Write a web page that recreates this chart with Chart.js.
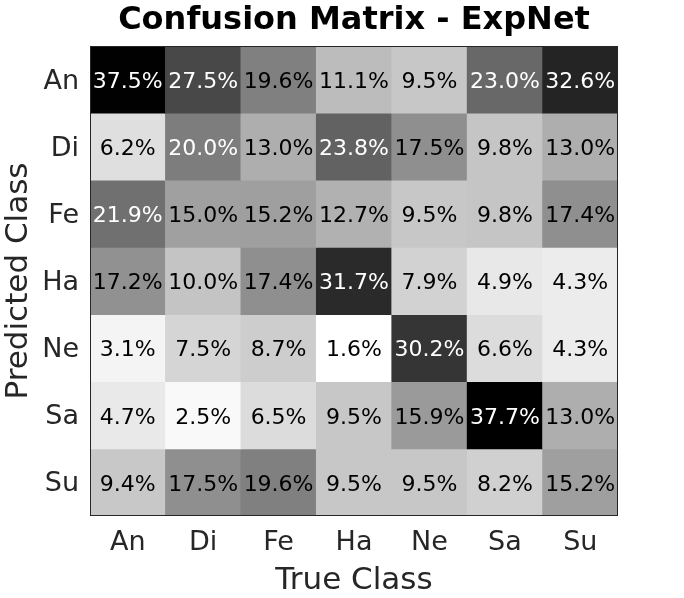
<!DOCTYPE html>
<html>
<head>
<meta charset="utf-8">
<script src="https://cdn.jsdelivr.net/npm/chart.js@4/dist/chart.umd.min.js"></script>
<style>
html,body{margin:0;padding:0;background:#fff;}
#wrap{width:684px;height:598px;position:relative;}
</style>
</head>
<body>
<div id="wrap"><canvas id="c" width="684" height="598"></canvas></div>
<script>
const titleText = "Confusion Matrix - ExpNet";
const trueClasses = ["An","Di","Fe","Ha","Ne","Sa","Su"];
const predictedClasses = ["An","Di","Fe","Ha","Ne","Sa","Su"];
// rows = predicted class, columns = true class (percent)
const rowAn = [37.5, 27.5, 19.6, 11.1, 9.5, 23.0, 32.6];
const rowDi = [6.2, 20.0, 13.0, 23.8, 17.5, 9.8, 13.0];
const rowFe = [21.9, 15.0, 15.2, 12.7, 9.5, 9.8, 17.4];
const rowHa = [17.2, 10.0, 17.4, 31.7, 7.9, 4.9, 4.3];
const rowNe = [3.1, 7.5, 8.7, 1.6, 30.2, 6.6, 4.3];
const rowSa = [4.7, 2.5, 6.5, 9.5, 15.9, 37.7, 13.0];
const rowSu = [9.4, 17.5, 19.6, 9.5, 9.5, 8.2, 15.2];
const matrix = [rowAn, rowDi, rowFe, rowHa, rowNe, rowSa, rowSu];

const all = matrix.flat();
const vMin = Math.min(...all), vMax = Math.max(...all);
function grayOf(v){
  const g = Math.round(255 * (vMax - v) / (vMax - vMin));
  return `rgb(${g},${g},${g})`;
}
const FONT = "'DejaVu Sans', sans-serif";
const AX = "#262626";

const datasets = matrix.map((row, r) => ({
  label: predictedClasses[r],
  data: row.map(() => [r, r + 1]),
  values: row,
  backgroundColor: row.map(grayOf),
  borderColor: row.map(grayOf),
  borderWidth: 0,
  borderSkipped: false,
  grouped: false,
  barPercentage: 1,
  categoryPercentage: 1
}));

const cellText = {
  id: 'cellText',
  afterDatasetsDraw(chart){
    const ctx = chart.ctx;
    ctx.save();
    ctx.font = "22px " + FONT;
    ctx.textAlign = 'center';
    ctx.textBaseline = 'middle';
    chart.data.datasets.forEach((ds, di) => {
      const meta = chart.getDatasetMeta(di);
      meta.data.forEach((el, i) => {
        const v = ds.values[i];
        const cy = (el.y + el.base) / 2;
        ctx.fillStyle = v > (vMin + vMax) / 2 ? '#ffffff' : '#000000';
        ctx.fillText(v.toFixed(1) + '%', el.x, cy + 2.5);
      });
    });
    const a = chart.chartArea;
    ctx.strokeStyle = AX;
    ctx.lineWidth = 1;
    ctx.strokeRect(Math.round(a.left) + 0.5, Math.round(a.top) + 0.5, Math.round(a.right - a.left) - 1, Math.round(a.bottom - a.top) - 1);
    // title centred over the plot area
    ctx.fillStyle = '#000';
    ctx.font = "bold 32px " + FONT;
    ctx.fillText(titleText, (a.left + a.right) / 2, 21);
    ctx.restore();
  }
};

new Chart(document.getElementById('c'), {
  type: 'bar',
  data: { labels: trueClasses, datasets },
  plugins: [cellText],
  options: {
    responsive: false,
    animation: false,
    layout: { padding: { left: 0, right: 66, top: 46, bottom: -2 } },
    plugins: {
      legend: { display: false },
      tooltip: { enabled: false },
      title: { display: false }
    },
    scales: {
      x: {
        type: 'category',
        offset: true,
        grid: { display: false, drawTicks: false },
        border: { display: false },
        ticks: { color: AX, font: { family: FONT, size: 27 }, padding: 11, maxRotation: 0 },
        title: { display: true, text: 'True Class', color: AX, font: { family: FONT, size: 31 }, padding: { top: 0, bottom: 0 } },
        afterFit(scale){ scale.height = 84; }
      },
      y: {
        type: 'linear',
        min: 0, max: 7,
        reverse: true,
        grid: { display: false, drawTicks: false },
        border: { display: false },
        afterBuildTicks(scale){ scale.ticks = predictedClasses.map((_, i) => ({ value: i + 0.5 })); },
        ticks: {
          color: AX, font: { family: FONT, size: 27 }, padding: 11, labelOffset: 2,
          callback: (v) => predictedClasses[Math.floor(v)]
        },
        title: { display: true, text: 'Predicted Class', color: AX, font: { family: FONT, size: 31 }, padding: { top: 0, bottom: 0 } },
        afterFit(scale){ scale.width = 90; }
      }
    }
  }
});
</script>
</body>
</html>
